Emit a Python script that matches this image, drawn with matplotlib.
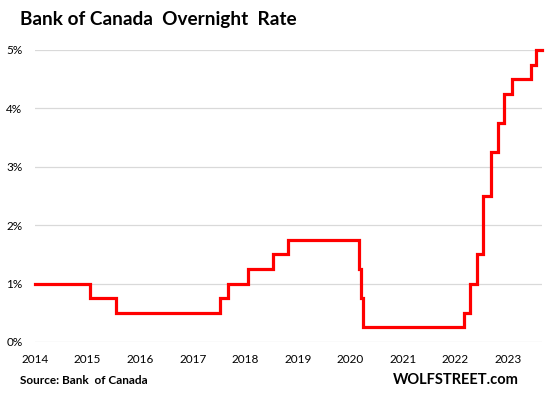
import matplotlib
matplotlib.use("Agg")
import matplotlib.pyplot as plt
import matplotlib.dates as mdates
import pandas as pd

# Bank of Canada overnight rate decisions (date, rate %)
change_dates = ["2014-01-01", "2015-01-21", "2015-07-15", "2017-07-12", "2017-09-06",
                "2018-01-17", "2018-07-11", "2018-10-24", "2020-03-04", "2020-03-13",
                "2020-03-27", "2022-03-02", "2022-04-13", "2022-06-01", "2022-07-13",
                "2022-09-07", "2022-10-26", "2022-12-07", "2023-01-25", "2023-06-07",
                "2023-07-12", "2023-08-22"]
rates = [1.00, 0.75, 0.50, 0.75, 1.00,
         1.25, 1.50, 1.75, 1.25, 0.75,
         0.25, 0.50, 1.00, 1.50, 2.50,
         3.25, 3.75, 4.25, 4.50, 4.75,
         5.00, 5.00]
year_ticks = list(range(2014, 2024))
y_ticks = [0, 1, 2, 3, 4, 5]

dates = pd.to_datetime(change_dates)

plt.rcParams['font.family'] = ['Lato', 'DejaVu Sans']

fig = plt.figure(figsize=(5.46, 3.99), dpi=100)
ax = fig.add_axes([0.0641, 0.1429, 0.9286, 0.7318])

ax.plot(dates, rates, drawstyle="steps-post", color="#ff0000", lw=2.3,
        clip_on=False, zorder=3, solid_joinstyle="miter")

ax.set_xlim(pd.Timestamp("2014-01-01"), pd.Timestamp("2023-08-25"))
ax.set_ylim(0, 5)
ax.set_yticks(y_ticks)
ax.set_yticklabels([f"{v}%" for v in y_ticks])
ax.set_xticks([pd.Timestamp(f"{y}-01-01") for y in year_ticks])
ax.set_xticklabels([str(y) for y in year_ticks])

ax.grid(axis="y", color="#d9d9d9", lw=0.9)
ax.set_axisbelow(True)
for s in ax.spines.values():
    s.set_visible(False)
ax.tick_params(axis="both", length=0, labelsize=8.5, colors="#000000")
ax.tick_params(axis="y", pad=9)
ax.tick_params(axis="x", pad=9)

fig.text(20 / 546, 1 - 20 / 399, "Bank of Canada  Overnight  Rate", fontsize=13.7,
         fontweight="bold", ha="left", va="center")
fig.text(20 / 546, 1 - 381 / 399, "Source: Bank  of Canada", fontsize=8.5,
         fontweight="bold", ha="left", va="center")
fig.text(519 / 546, 1 - 380 / 399, "WOLFSTREET.com", fontsize=10.5,
         fontweight="bold", ha="right", va="center")

fig.savefig("out.png", dpi=100)
